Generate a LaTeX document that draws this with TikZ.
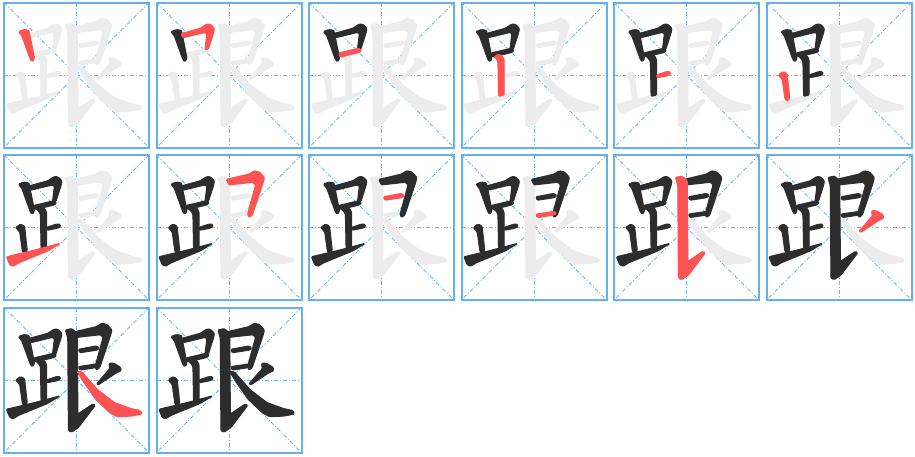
\documentclass[tikz,border=0pt]{standalone}
\usepackage{xcolor}

\definecolor{gridblue}{RGB}{100,177,238}
\definecolor{guideblue}{RGB}{108,182,240}
\definecolor{inkgray}{RGB}{236,236,236}
\definecolor{inkblack}{RGB}{45,45,45}
\definecolor{inkred}{RGB}{255,82,82}

\tikzset{
  cellbox/.style={draw=gridblue, line width=2pt},
  guide/.style={draw=guideblue, line width=0.8pt, dash pattern=on 4pt off 2pt on 1pt off 2pt},
  inkstroke/.style={rounded corners=1pt, line width=1.2pt, line join=round},
}

% one stroke of the character, #1 = stroke number, #2 = colour
\newcommand{\genstroke}[2]{%
  \ifcase#1\or
  \filldraw[inkstroke,#2] (62,106) -- (78,100) -- (93,102) -- (110,186) -- (104,196) -- (98,190) -- (72,118) -- cycle;\or
  \filldraw[inkstroke,#2] (92,112) -- (150,96) -- (168,84) -- (180,84) -- (192,96) -- (190,108) -- (174,158) -- (164,160) -- (170,112) -- (164,108) -- (98,124) -- cycle;\or
  \filldraw[inkstroke,#2] (108,170) -- (168,156) -- (176,162) -- (170,168) -- (112,182) -- cycle;\or
  \filldraw[inkstroke,#2] (116,182) -- (128,174) -- (140,178) -- (146,190) -- (146,296) -- (130,300) -- (128,196) -- (122,186) -- cycle;\or
  \filldraw[inkstroke,#2] (146,236) -- (176,226) -- (186,226) -- (188,234) -- (178,238) -- (148,244) -- cycle;\or
  \filldraw[inkstroke,#2] (54,236) -- (68,226) -- (80,232) -- (88,305) -- (82,314) -- (74,308) -- (66,250) -- cycle;\or
  \filldraw[inkstroke,#2] (26,324) -- (110,304) -- (186,284) -- (150,306) -- (62,342) -- (46,352) -- (36,348) -- cycle;\or
  \filldraw[inkstroke,#2] (228,92) -- (296,76) -- (312,66) -- (328,70) -- (342,86) -- (338,102) -- (306,198) -- (296,206) -- (292,196) -- (316,108) -- (308,100) -- (236,108) -- cycle;\or
  \filldraw[inkstroke,#2] (242,144) -- (296,134) -- (304,140) -- (298,146) -- (246,154) -- cycle;\or
  \filldraw[inkstroke,#2] (242,196) -- (296,188) -- (304,192) -- (298,198) -- (246,206) -- cycle;\or
  \filldraw[inkstroke,#2] (203,86) -- (222,82) -- (238,96) -- (240,338) -- (285,308) -- (292,312) -- (242,378) -- (222,392) -- (212,388) -- (210,110) -- cycle;\or
  \filldraw[inkstroke,#2] (334,186) -- (348,186) -- (368,198) -- (370,208) -- (356,214) -- (302,250) -- (296,248) -- (336,202) -- cycle;\or
  \filldraw[inkstroke,#2] (238,210) -- (252,212) -- (300,266) -- (350,304) -- (400,322) -- (428,328) -- (432,338) -- (400,344) -- (358,346) -- (336,334) -- (294,294) -- (256,240) -- cycle;\fi}

\begin{document}
\begin{tikzpicture}[x=1pt, y=-1pt]
  \useasboundingbox (0,0) rectangle (915,456);
  \foreach \k in {1,...,14}{
    \pgfmathtruncatemacro{\col}{mod(\k-1,6)}
    \pgfmathtruncatemacro{\row}{floor((\k-1)/6)}
    \begin{scope}[shift={(3+152.5*\col,1.5+152.5*\row)}]
      % guide lines
      \draw[guide] (73.5,1) -- (73.5,146);
      \draw[guide] (1,73.5) -- (146,73.5);
      \draw[guide] (1,1) -- (146,146);
      \draw[guide] (146,1) -- (1,146);
      \begin{scope}[shift={(-5.17,-5.17)}, scale=1/3]
        \foreach \s in {1,...,13}{\genstroke{\s}{inkgray}}
        \foreach \s in {1,...,13}{%
          \ifnum\s<\k \genstroke{\s}{inkblack}\fi
          \ifnum\s=\k \genstroke{\s}{inkred}\fi}
      \end{scope}
      \draw[cellbox] (1,1) rectangle (146,146);
    \end{scope}
  }
\end{tikzpicture}
\end{document}
